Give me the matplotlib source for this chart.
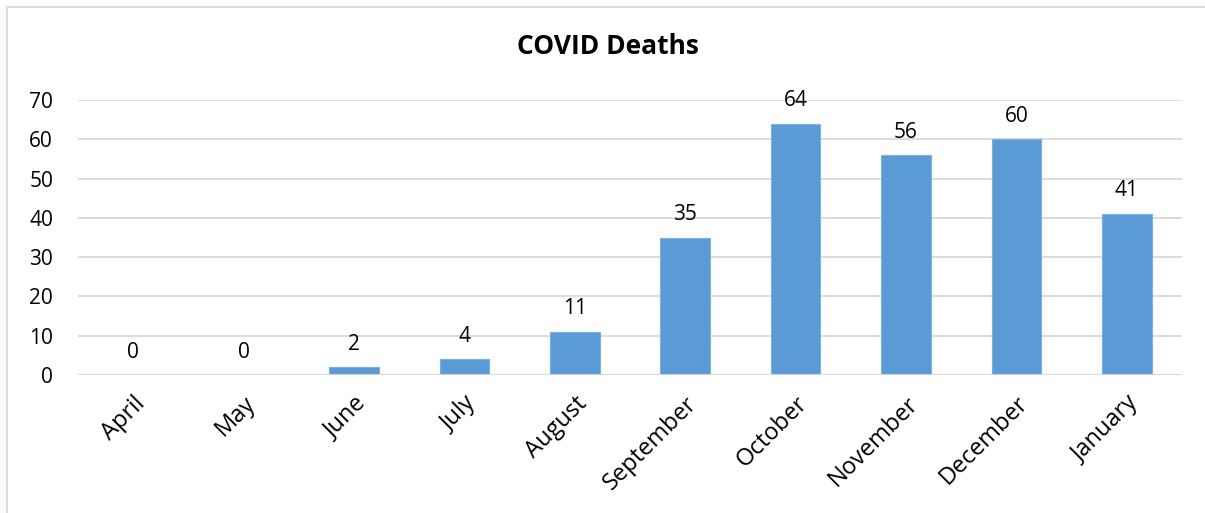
import matplotlib
matplotlib.use("Agg")
import matplotlib.pyplot as plt
from matplotlib.patches import Rectangle

months = ["April", "May", "June", "July", "August", "September",
          "October", "November", "December", "January"]
deaths = [0, 0, 2, 4, 11, 35, 64, 56, 60, 41]
yticks = [0, 10, 20, 30, 40, 50, 60, 70]

plt.rcParams["font.family"] = ["Open Sans", "DejaVu Sans"]

fig = plt.figure(figsize=(12.05, 5.13), dpi=100)
ax = fig.add_axes([78 / 1205, 1 - 375 / 513, (1182 - 78) / 1205, (375 - 100) / 513])

# chart-area frame
fig.patches.append(Rectangle((7 / 1205, -0.01), 1.2, 1 - 7 / 513 + 0.01,
                             transform=fig.transFigure, fill=False,
                             edgecolor="#D9D9D9", linewidth=1.3))

x = list(range(len(months)))
bars = ax.bar(x, deaths, width=0.45, color="#5B9BD5",
              edgecolor="#7DB0DE", linewidth=0.8, zorder=2)

for xi, v in zip(x, deaths):
    ax.annotate(str(v), (xi, v), xytext=(0, 9), textcoords="offset points",
                ha="center", va="bottom", fontsize=15, color="#000000")

ax.set_xlim(-0.5, len(months) - 0.5)
ax.set_ylim(0, 70)
ax.set_yticks(yticks)
ax.set_yticklabels([str(t) for t in yticks], fontsize=15)
ax.yaxis.grid(True, color="#D9D9D9", linewidth=1.3, zorder=0)
ax.axhline(0, color="#D9D9D9", linewidth=1.3, zorder=3)
ax.set_axisbelow(True)

ax.set_xticks(x)
ax.set_xticklabels(months, rotation=45, ha="right", rotation_mode="anchor",
                   fontsize=17)
ax.tick_params(axis="both", length=0)
ax.tick_params(axis="x", pad=12)
ax.tick_params(axis="y", pad=18)

for s in ax.spines.values():
    s.set_visible(False)

fig.text(608 / 1205, 1 - 47 / 513, "COVID Deaths", ha="center", va="center",
         fontsize=19, fontweight="bold")

fig.savefig("out.png", dpi=100)
